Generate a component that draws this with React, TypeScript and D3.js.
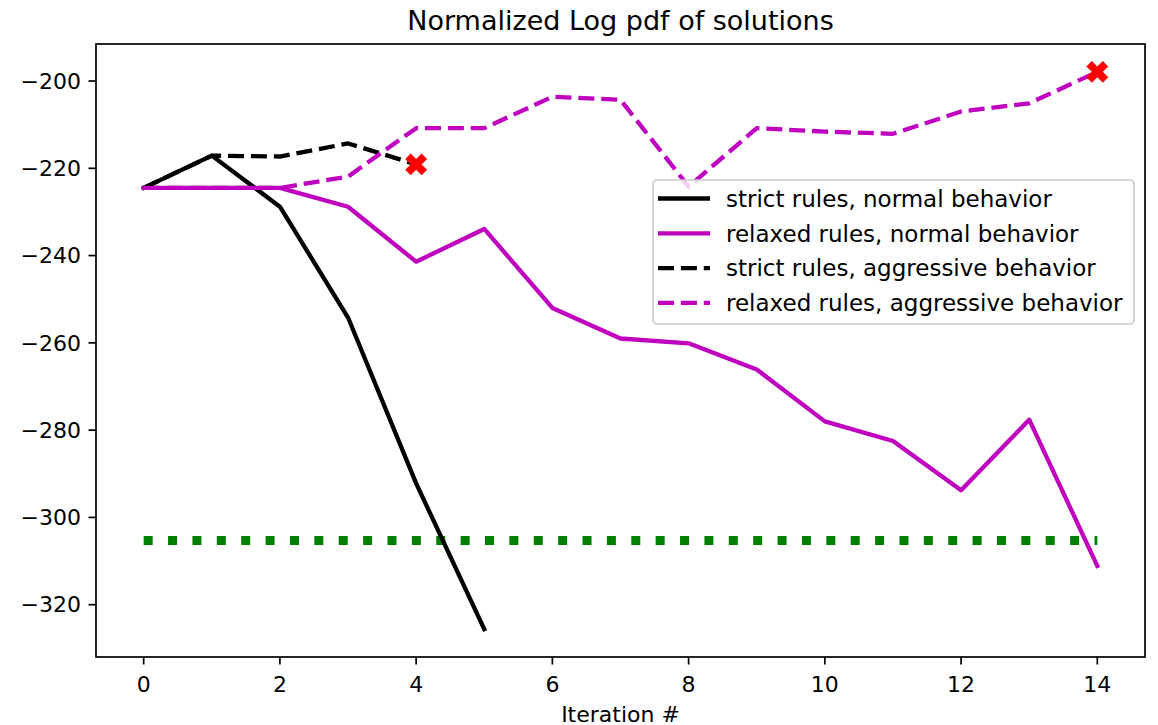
import React from "react";
import * as d3 from "d3";

const iterations = [0, 1, 2, 3, 4, 5, 6, 7, 8, 9, 10, 11, 12, 13, 14];
const strictNormal = [-224.5, -217.1, -228.8, -254.2, -292.2, -325.6];
const relaxedNormal = [-224.5, -224.5, -224.5, -228.8, -241.4, -233.9, -252.0, -259.0, -260.1, -266.1, -278.0, -282.5, -293.8, -277.6, -311.1];
const strictAggressive = [-224.5, -217.1, -217.3, -214.3, -219.1];
const relaxedAggressive = [-224.5, -224.5, -224.5, -221.9, -210.8, -210.8, -203.6, -204.3, -224.2, -210.8, -211.6, -212.1, -207.0, -205.1, -197.9];
const referenceLevel = -305.3;
const endMarkers = [
  { x: 4, y: -219.1 },
  { x: 14, y: -197.9 },
];
const xTicks = [0, 2, 4, 6, 8, 10, 12, 14];
const yTicks = [-200, -220, -240, -260, -280, -300, -320];
const legendLabels = [
  "strict rules, normal behavior",
  "relaxed rules, normal behavior",
  "strict rules, aggressive behavior",
  "relaxed rules, aggressive behavior",
];

const W = 1158;
const H = 725;
const L = 96, R = 1145, T = 44, B = 657;
const FONT = "DejaVu Sans, sans-serif";
const MAGENTA = "#bf00bf";
const LW = 4.3;
const DASH = "16 6.9";

export default function App() {
  const xMin = 0, xMax = 14;
  const xPad = (xMax - xMin) * 0.05;
  const x = d3.scaleLinear().domain([xMin - xPad, xMax + xPad]).range([L, R]);

  const allY = [...strictNormal, ...relaxedNormal, ...strictAggressive, ...relaxedAggressive, referenceLevel, ...endMarkers.map(m => m.y)];
  const yLo = d3.min(allY) as number;
  const yHi = d3.max(allY) as number;
  const yPad = (yHi - yLo) * 0.05;
  const y = d3.scaleLinear().domain([yLo - yPad, yHi + yPad]).range([B, T]);

  const line = d3.line<number>().x((_, i) => x(iterations[i])).y(v => y(v));
  const fmt = d3.format("d");

  const series = [
    { data: strictNormal, color: "#000", dash: undefined as string | undefined },
    { data: relaxedNormal, color: MAGENTA, dash: undefined },
    { data: strictAggressive, color: "#000", dash: DASH },
    { data: relaxedAggressive, color: MAGENTA, dash: DASH },
  ];

  const cross = d3.symbol().type(d3.symbolCross).size(300)() as string;

  const legX = 653, legY = 180, legW = 481, legH = 144;
  const rowY = [198.5, 233.3, 268.2, 302.8];

  return (
    <svg width={W} height={H} style={{ position: "absolute", left: 0, top: 0, background: "#fff" }}>
      <rect x={0} y={0} width={W} height={H} fill="#fff" />
      <text x={(L + R) / 2} y={30} textAnchor="middle" fontFamily={FONT} fontSize={27} fill="#000">
        Normalized Log pdf of solutions
      </text>

      <line
        x1={x(iterations[0])}
        x2={x(iterations[iterations.length - 1])}
        y1={y(referenceLevel)}
        y2={y(referenceLevel)}
        stroke="#008000"
        strokeWidth={9}
        strokeDasharray="9 15.38"
      />

      {series.map((s, i) => (
        <path
          key={i}
          d={line(s.data) as string}
          fill="none"
          stroke={s.color}
          strokeWidth={LW}
          strokeDasharray={s.dash}
          strokeLinejoin="round"
          strokeLinecap={s.dash ? "butt" : "square"}
        />
      ))}

      {endMarkers.map((m, i) => (
        <path key={i} d={cross} transform={`translate(${x(m.x)},${y(m.y)}) rotate(45)`} fill="#ff0000" />
      ))}

      {/* axes frame */}
      <rect x={L} y={T} width={R - L} height={B - T} fill="none" stroke="#000" strokeWidth={1.7} />

      {xTicks.map(t => (
        <g key={t}>
          <line x1={x(t)} x2={x(t)} y1={B} y2={B + 7.5} stroke="#000" strokeWidth={1.7} />
          <text x={x(t)} y={692} textAnchor="middle" fontFamily={FONT} fontSize={22} fill="#000">
            {fmt(t)}
          </text>
        </g>
      ))}
      {yTicks.map(t => (
        <g key={t}>
          <line x1={L - 7.5} x2={L} y1={y(t)} y2={y(t)} stroke="#000" strokeWidth={1.7} />
          <text x={81} y={y(t) + 7.8} textAnchor="end" fontFamily={FONT} fontSize={22} fill="#000">
            {fmt(t)}
          </text>
        </g>
      ))}

      <text x={(L + R) / 2} y={722} textAnchor="middle" fontFamily={FONT} fontSize={22} fill="#000">
        Iteration #
      </text>

      {/* legend */}
      <rect x={legX} y={legY} width={legW} height={legH} rx={4} fill="#fff" fillOpacity={0.8} stroke="#cccccc" strokeWidth={1.7} />
      {legendLabels.map((lab, i) => (
        <g key={lab}>
          <line
            x1={658}
            x2={710}
            y1={rowY[i]}
            y2={rowY[i]}
            stroke={series[i].color}
            strokeWidth={LW}
            strokeDasharray={series[i].dash}
          />
          <text x={726} y={rowY[i]} dy="0.36em" fontFamily={FONT} fontSize={23} fill="#000">
            {lab}
          </text>
        </g>
      ))}
    </svg>
  );
}
